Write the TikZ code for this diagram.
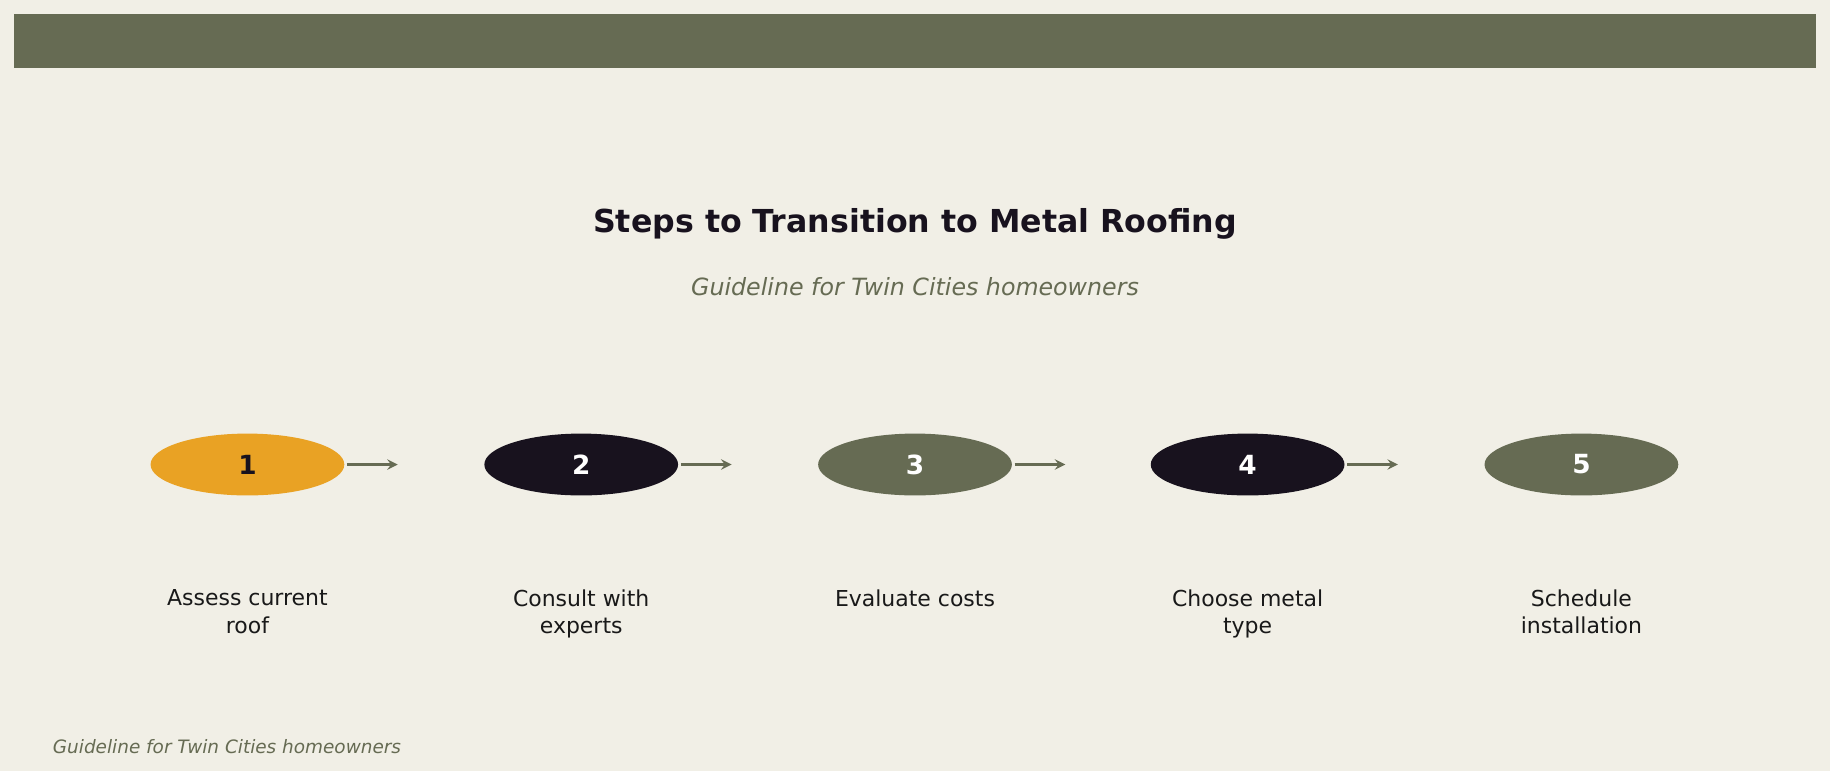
\documentclass[tikz,border=0pt]{standalone}
\usepackage{fontspec}
\setmainfont{DejaVu Sans}
\usetikzlibrary{positioning,shapes.geometric}
\definecolor{olive}{HTML}{666B53}
\definecolor{ink}{HTML}{18121E}
\definecolor{amber}{HTML}{E9A224}
\definecolor{paper}{HTML}{F1EFE6}
\tikzset{
  stepdot/.style={ellipse, minimum width=166*0.02334cm, minimum height=53*0.02334cm, inner sep=0pt, font=\fontsize{15}{18}\selectfont\bfseries},
  steplabel/.style={align=center, font=\fontsize{12.5}{15.5}\selectfont, text=black!90, anchor=north},
  steparrow/.style={->, >=stealth, olive, line width=1.6pt, shorten >=1pt},
}
\begin{document}
\begin{tikzpicture}[x=0.02334cm, y=-0.02334cm]
  \useasboundingbox[fill=paper] (0,0) rectangle (1568,661);
  \fill[olive] (12,12) rectangle (1556,58);
  \node[text=ink, font=\fontsize{18}{22}\selectfont\bfseries] (title) at (784,192) {Steps to Transition to Metal Roofing};
  \node[text=olive, font=\fontsize{13.5}{16}\selectfont\itshape] (subtitle) at (784,246) {Guideline for Twin Cities homeowners};
  % steps
  \node[stepdot, fill=amber, text=ink] (s1) at (212,398) {1};
  \node[stepdot, fill=ink, text=white] (s2) at (498,398) {2};
  \node[stepdot, fill=olive, text=white] (s3) at (784,398) {3};
  \node[stepdot, fill=ink, text=white] (s4) at (1069,398) {4};
  \node[stepdot, fill=olive, text=white] (s5) at (1355,398) {5};
  \foreach \i in {1,...,4}{
    \coordinate (a\i) at ([xshift=47*0.02334cm]s\i.east);
    \draw[steparrow] ([xshift=2*0.02334cm]s\i.east) -- (a\i);
  }
  \node[steplabel] (l1) at (212,500) {Assess current\\roof};
  \node[steplabel] (l2) at (498,500) {Consult with\\experts};
  \node[steplabel] (l3) at (784,500) {Evaluate costs};
  \node[steplabel] (l4) at (1069,500) {Choose metal\\type};
  \node[steplabel] (l5) at (1355,500) {Schedule\\installation};
  \node[anchor=west, text=olive, font=\fontsize{10.5}{13}\selectfont\itshape] (footer) at (40,640) {Guideline for Twin Cities homeowners};
\end{tikzpicture}
\end{document}
